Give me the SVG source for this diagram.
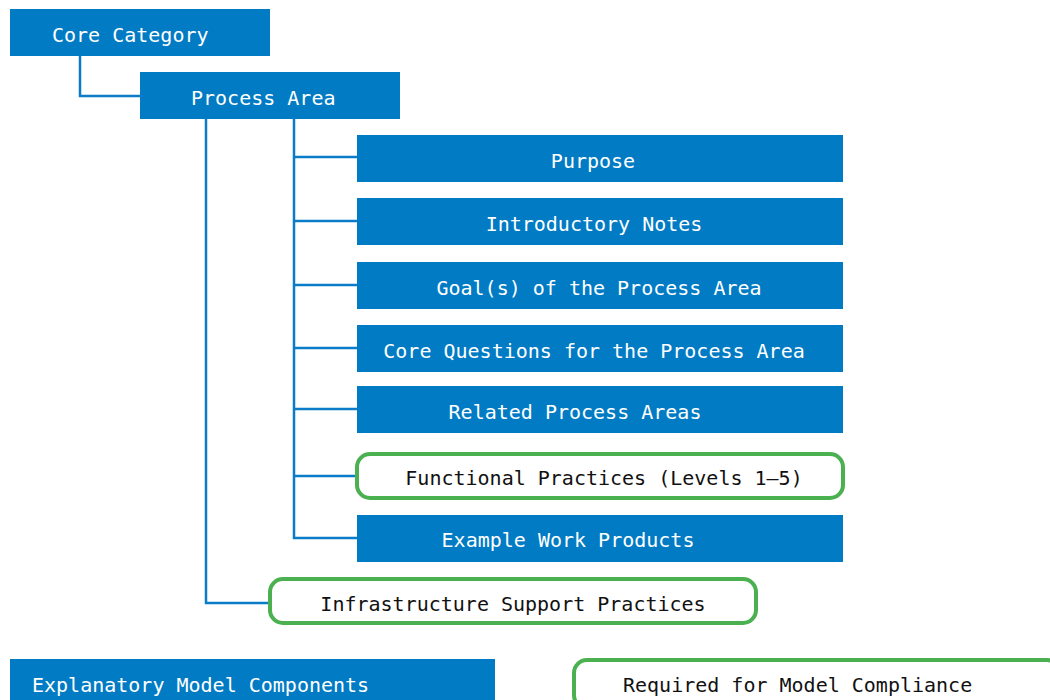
<svg xmlns="http://www.w3.org/2000/svg" width="1050" height="700" viewBox="0 0 1050 700">
  <style>
    .box { fill: #017BC4; }
    .req { fill: #FFFFFF; stroke: #4BB04F; stroke-width: 4; }
    .lbl { font-family: "DejaVu Sans Mono", "Liberation Mono", monospace; font-size: 20px; }
    .lbl-w { fill: #FFFFFF; }
    .lbl-k { fill: #111111; }
    .link { fill: none; stroke: #0A7CC8; stroke-width: 2.5; }
  </style>
  <rect width="1050" height="700" fill="#FFFFFF"/>

  <!-- tree connectors -->
  <g id="connectors">
    <path class="link" d="M80 56 V96 H140"/>
    <path class="link" d="M206 119 V603 H270"/>
    <path class="link" d="M294 119 V538 H357"/>
    <path class="link" d="M294 157 H357"/>
    <path class="link" d="M294 221 H357"/>
    <path class="link" d="M294 285 H357"/>
    <path class="link" d="M294 348 H357"/>
    <path class="link" d="M294 409 H357"/>
    <path class="link" d="M294 476 H357"/>
  </g>

  <g id="core-category">
    <rect class="box" x="10" y="9" width="260" height="47"/>
    <text class="lbl lbl-w" x="52" y="42">Core Category</text>
  </g>

  <g id="process-area">
    <rect class="box" x="140" y="72" width="260" height="47"/>
    <text class="lbl lbl-w" x="191" y="105">Process Area</text>
  </g>

  <g id="purpose">
    <rect class="box" x="357" y="135" width="486" height="47"/>
    <text class="lbl lbl-w" x="593" y="168" text-anchor="middle">Purpose</text>
  </g>

  <g id="introductory-notes">
    <rect class="box" x="357" y="198" width="486" height="47"/>
    <text class="lbl lbl-w" x="594" y="231" text-anchor="middle">Introductory Notes</text>
  </g>

  <g id="goals">
    <rect class="box" x="357" y="262" width="486" height="47"/>
    <text class="lbl lbl-w" x="599" y="295" text-anchor="middle">Goal(s) of the Process Area</text>
  </g>

  <g id="core-questions">
    <rect class="box" x="357" y="325" width="486" height="47"/>
    <text class="lbl lbl-w" x="594" y="358" text-anchor="middle">Core Questions for the Process Area</text>
  </g>

  <g id="related-process-areas">
    <rect class="box" x="357" y="386" width="486" height="47"/>
    <text class="lbl lbl-w" x="575" y="419" text-anchor="middle">Related Process Areas</text>
  </g>

  <g id="functional-practices">
    <rect class="req" x="357" y="454" width="486" height="44" rx="13"/>
    <text class="lbl lbl-k" x="604" y="485" text-anchor="middle">Functional Practices (Levels 1–5)</text>
  </g>

  <g id="example-work-products">
    <rect class="box" x="357" y="515" width="486" height="47"/>
    <text class="lbl lbl-w" x="568" y="547" text-anchor="middle">Example Work Products</text>
  </g>

  <g id="infrastructure-support">
    <rect class="req" x="270" y="579" width="486" height="44" rx="13"/>
    <text class="lbl lbl-k" x="513" y="611" text-anchor="middle">Infrastructure Support Practices</text>
  </g>

  <!-- legend -->
  <g id="legend-explanatory">
    <rect class="box" x="10" y="659" width="485" height="47"/>
    <text class="lbl lbl-w" x="32" y="692">Explanatory Model Components</text>
  </g>

  <g id="legend-required">
    <rect class="req" x="574" y="660" width="486" height="48" rx="13"/>
    <text class="lbl lbl-k" x="623" y="692">Required for Model Compliance</text>
  </g>
</svg>
